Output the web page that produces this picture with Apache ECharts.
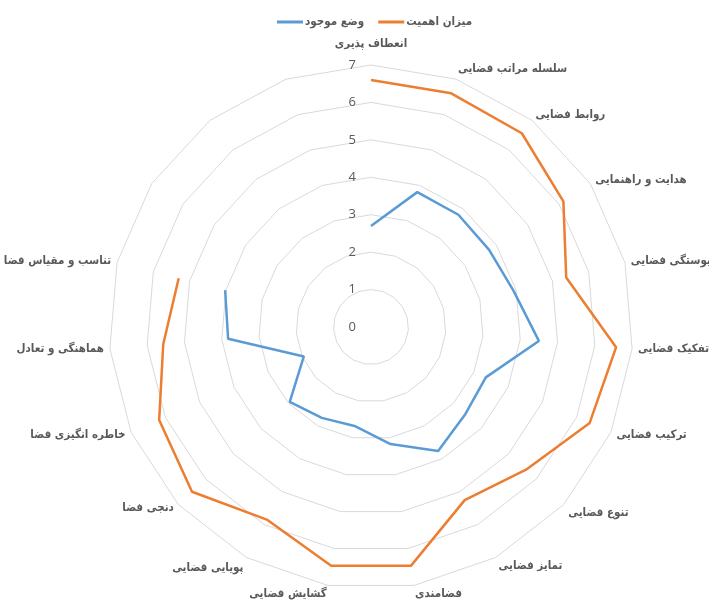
<!DOCTYPE html>
<html><head><meta charset="utf-8">
<script src="https://cdn.jsdelivr.net/npm/echarts@6/dist/echarts.min.js"></script>
<style>html,body{margin:0;padding:0;background:#fff}#c{width:709px;height:603px}</style>
</head><body><div id="c"></div>
<script>
var categories = ['انعطاف پذیری','سلسله مراتب فضایی','روابط فضایی','هدایت و راهنمایی','پیوستگی فضایی','تفکیک فضایی','ترکیب فضایی','تنوع فضایی','تمایز فضایی','فضامندی','گشایش فضایی','پویایی فضایی','دنجی فضا','خاطره انگیزی فضا','هماهنگی و تعادل','تناسب و مقیاس فضا','','',''];
var seriesNames = ['وضع موجود','میزان اهمیت'];
var current = [2.7,3.81,3.8,3.77,3.93,4.5,3.35,3.43,3.77,3.17,2.68,2.76,2.95,1.96,3.83,4.02];
var importance = [6.6,6.6,6.56,6.14,5.38,6.57,6.38,5.63,5.26,6.47,6.47,5.85,6.5,6.18,5.57,5.3];
var radiusTicks = [0,1,2,3,4,5,6,7];

var chart = echarts.init(document.getElementById('c'));
var n = categories.length;
// radar lays indicators counter-clockwise; reverse to get clockwise order
var ind = [categories[0]].concat(categories.slice(1).reverse()).map(function(nm){return {name:nm, min:0, max:7};});
var CENTER = [371, 327], R = 262;
var txt = '#595959';
var FONT = '"DejaVu Sans Condensed", "DejaVu Sans"';
function rs(p){ return {color:txt, fontSize:11.5, fontWeight:'bold', fontFamily:FONT, padding:p}; }
var nameStyle = {};
nameStyle[categories[0]] = 't';
nameStyle[categories[1]] = 'a';
nameStyle[categories[7]] = 'b';
nameStyle[categories[11]] = 'b';
nameStyle[categories[8]] = 'c';
nameStyle[categories[9]] = 'c';
nameStyle[categories[10]] = 'c';
chart.setOption({
  animation:false,
  legend:{
    data:seriesNames, top:11, left:272, icon:'rect', itemWidth:26, itemHeight:3, itemGap:14,
    textStyle:{color:txt, fontSize:11.5, fontWeight:'bold', fontFamily:FONT, padding:[0,0,0,-3]}
  },
  radar:{
    center:CENTER, radius:R, startAngle:90, splitNumber:7, shape:'polygon',
    indicator:ind,
    axisName:{color:txt, fontSize:11.5, fontWeight:'bold', fontFamily:FONT,
      formatter:function(name){ var k = nameStyle[name]; return k ? '{'+k+'|'+name+'}' : name; },
      rich:{t:rs([0,0,9,0]), a:rs([0,0,10,0]), b:rs([10,0,0,0]), c:rs([6,0,0,0])}
    },
    nameGap:6,
    axisLine:{show:false}, axisTick:{show:false}, axisLabel:{show:false},
    splitArea:{show:false},
    splitLine:{lineStyle:{color:'#D9D9D9', width:1}}
  },
  polar:{center:CENTER, radius:R},
  angleAxis:{type:'value', min:0, max:n, startAngle:90, clockwise:true, show:false},
  radiusAxis:{type:'value', min:0, max:7, interval:1,
    axisLine:{show:false}, axisTick:{show:false}, splitLine:{show:false},
    axisLabel:{color:txt, fontSize:13, fontFamily:'Open Sans', margin:15,
      formatter:function(v){return radiusTicks.indexOf(v)>=0?String(v):'';}}
  },
  series:[
    {name:seriesNames[0], type:'line', coordinateSystem:'polar', symbol:'none',
     color:'#5B9BD5', lineStyle:{width:2.5, color:'#5B9BD5'},
     data:current.map(function(v,i){return [v,i];})},
    {name:seriesNames[1], type:'line', coordinateSystem:'polar', symbol:'none',
     color:'#ED7D31', lineStyle:{width:2.5, color:'#ED7D31'},
     data:importance.map(function(v,i){return [v,i];})}
  ]
});
</script></body></html>
